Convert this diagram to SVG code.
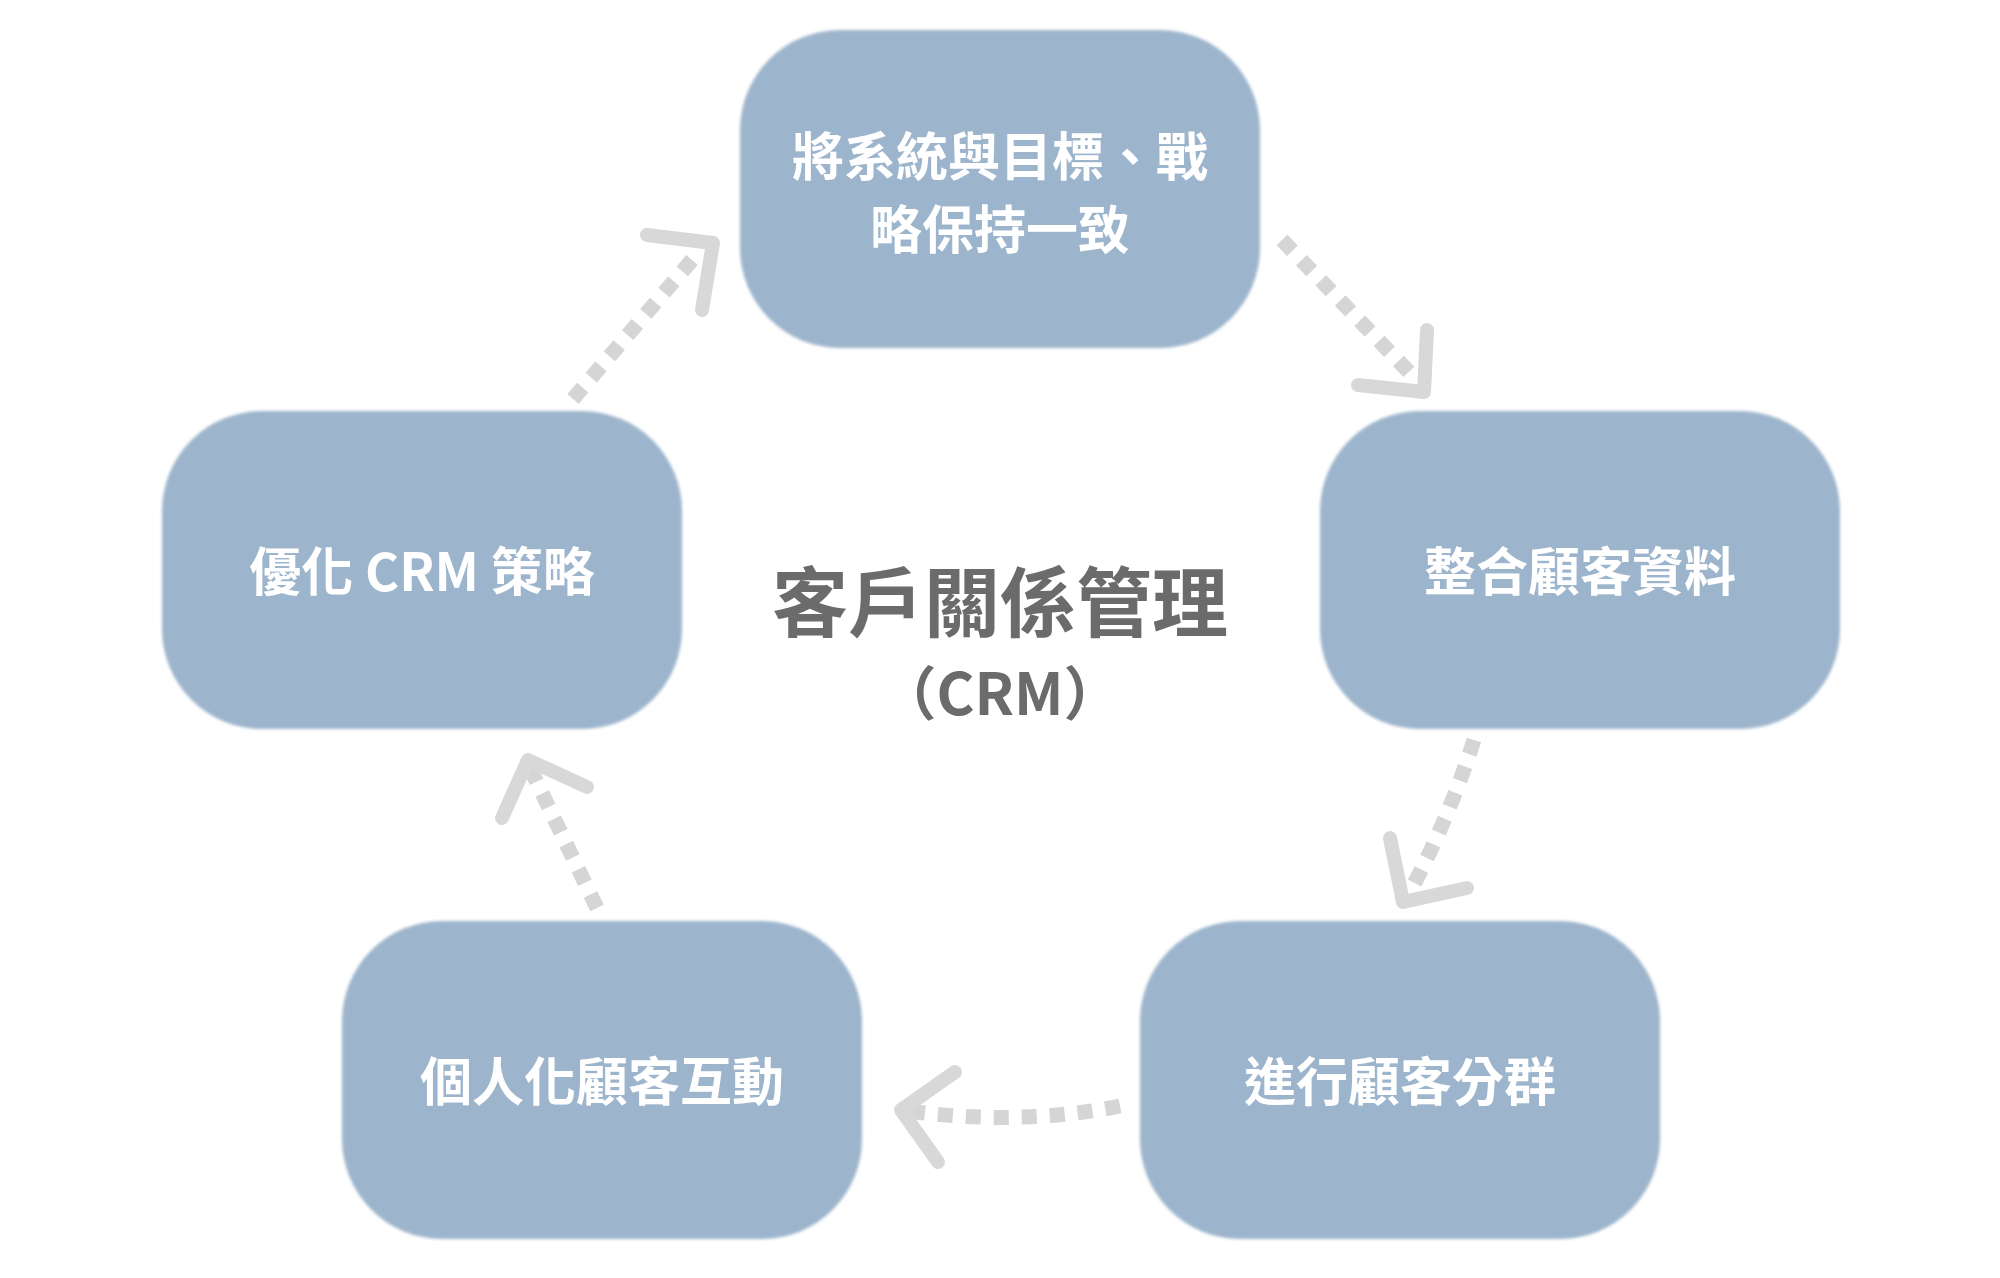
<svg xmlns="http://www.w3.org/2000/svg" width="2000" height="1278" viewBox="0 0 2000 1278">
  <style>
    .box { fill: #9db5cc; }
    .lbl { font-family: "Noto Sans CJK TC", "Noto Sans", sans-serif; font-weight: 700; font-size: 52px; fill: #ffffff; text-anchor: middle; dominant-baseline: central; }
    .title { font-family: "Noto Sans CJK TC", "Noto Sans", sans-serif; font-weight: 700; fill: #6b6b6b; text-anchor: middle; }
    .dots { fill: none; stroke: #d5d5d5; stroke-width: 15; stroke-dasharray: 15 13; stroke-linecap: butt; }
    .head { fill: none; stroke: #d8d8d8; stroke-width: 14; stroke-linecap: round; stroke-linejoin: round; }
  </style>
  <defs>
    <filter id="soft" x="-5%" y="-5%" width="110%" height="110%">
      <feGaussianBlur stdDeviation="1.6"/>
    </filter>
  </defs>
  <rect width="2000" height="1278" fill="#ffffff"/>

  <g id="connectors">
    <path class="dots" d="M573,399 L692,260"/>
    <path class="head" d="M647,235 L713,243 L702,310"/>
    <path class="dots" d="M1282,240 L1410,373"/>
    <path class="head" d="M1427,330 L1424,392 L1358,385"/>
    <path class="dots" d="M1474,740 Q1450,815 1413,886"/>
    <path class="head" d="M1390,838 L1403,902 L1467,888"/>
    <path class="dots" d="M1120,1106 Q1020,1126 908,1111"/>
    <path class="head" d="M955,1072 L901,1110 L938,1162"/>
    <path class="dots" d="M597,908 L530,768"/>
    <path class="head" d="M502,818 L528,760 L587,787"/>
  </g>

  <g id="node-top">
    <rect class="box" x="740" y="30" width="520" height="318" rx="100" filter="url(#soft)"/>
    <text class="lbl" x="1000" y="153">將系統與目標、戰</text>
    <text class="lbl" x="1000" y="226">略保持一致</text>
  </g>
  <g id="node-right">
    <rect class="box" x="1320" y="411" width="520" height="318" rx="100" filter="url(#soft)"/>
    <text class="lbl" x="1580" y="568">整合顧客資料</text>
  </g>
  <g id="node-bottom-right">
    <rect class="box" x="1140" y="921" width="520" height="318" rx="100" filter="url(#soft)"/>
    <text class="lbl" x="1400" y="1078">進行顧客分群</text>
  </g>
  <g id="node-bottom-left">
    <rect class="box" x="342" y="921" width="520" height="318" rx="100" filter="url(#soft)"/>
    <text class="lbl" x="602" y="1078">個人化顧客互動</text>
  </g>
  <g id="node-left">
    <rect class="box" x="162" y="411" width="520" height="318" rx="100" filter="url(#soft)"/>
    <text class="lbl" x="422" y="568">優化 CRM 策略</text>
  </g>

  <g id="center-title">
    <text class="title" x="1000" y="598" font-size="76" dominant-baseline="central">客戶關係管理</text>
    <text class="title" x="1000" y="715" font-size="58">（CRM）</text>
  </g>
</svg>
